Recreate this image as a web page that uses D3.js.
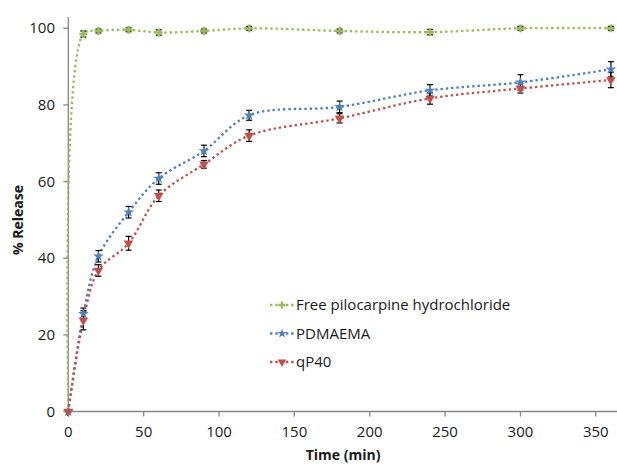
<!DOCTYPE html>
<html>
<head>
<meta charset="utf-8">
<script src="https://cdn.jsdelivr.net/npm/d3@7"></script>
<style>
  body { margin: 0; background: #fff; }
  svg text { font-family: "Open Sans", "Liberation Sans", sans-serif; fill: #1a1a1a; }
  .axisLabel { font-weight: bold; font-size: 14px; }
</style>
</head>
<body>
<div id="chart"></div>
<script>
// Chart data
const times = [0, 10, 20, 40, 60, 90, 120, 180, 240, 300, 360];
const seriesNames = ["Free pilocarpine hydrochloride", "PDMAEMA", "qP40"];
const freeValues = [0, 98.5, 99.3, 99.6, 98.9, 99.3, 100, 99.3, 99.0, 100, 100];
const freeErrors = [0, 0.8, 0.5, 0.5, 0.7, 0.5, 0.5, 0.5, 0.7, 0.5, 0.5];
const pdmaemaValues = [0, 25.5, 40.5, 52, 60.8, 68, 77.3, 79.5, 83.8, 85.9, 89.3];
const pdmaemaErrors = [0, 1.5, 1.5, 1.5, 1.5, 1.5, 1.3, 1.5, 1.5, 2, 2];
const qp40Values = [0, 23.8, 36.8, 43.9, 56.3, 64.5, 72, 76.5, 81.7, 84.3, 86.5];
const qp40Errors = [0, 2.5, 1.5, 1.8, 1.5, 1.0, 1.5, 1.2, 1.5, 1.2, 2];
const xTicks = [0, 50, 100, 150, 200, 250, 300, 350];
const yTicks = [0, 20, 40, 60, 80, 100];

// Dimensions
let w = 617, h = 465;
let svg = d3.select("#chart").append("svg").attr("width", w).attr("height", h);

let xScale = d3.scaleLinear().domain([0, 350]).range([68.3, 595.8]);
let yScale = d3.scaleLinear().domain([0, 100]).range([411.5, 28.3]);

let axisColour = "#868686";

// Axis lines
svg.append("line").attr("x1", xScale(0)).attr("x2", w).attr("y1", yScale(0)).attr("y2", yScale(0))
  .attr("stroke", axisColour).attr("stroke-width", 1.3);
svg.append("line").attr("x1", xScale(0)).attr("x2", xScale(0)).attr("y1", 17).attr("y2", yScale(0))
  .attr("stroke", axisColour).attr("stroke-width", 1.3);

// Ticks and tick labels
xTicks.forEach(t => {
  svg.append("line").attr("x1", xScale(t)).attr("x2", xScale(t)).attr("y1", yScale(0)).attr("y2", yScale(0) + 5)
    .attr("stroke", axisColour).attr("stroke-width", 1.3);
  svg.append("text").text(t).attr("x", xScale(t)).attr("y", 437).attr("text-anchor", "middle").style("font-size", "15px");
});
yTicks.forEach(t => {
  svg.append("line").attr("x1", xScale(0) - 5).attr("x2", xScale(0)).attr("y1", yScale(t)).attr("y2", yScale(t))
    .attr("stroke", axisColour).attr("stroke-width", 1.3);
  svg.append("text").text(t).attr("x", 55).attr("y", yScale(t) + 5).attr("text-anchor", "end").style("font-size", "15px");
});

// Axis titles
svg.append("text").text("Time (min)").attr("x", 343).attr("y", 460).attr("text-anchor", "middle").classed("axisLabel", true);
svg.append("text").text("% Release").attr("transform", "translate(23,220) rotate(-90)").attr("text-anchor", "middle").classed("axisLabel", true);

// Series
let series = [
  { name: seriesNames[0], values: freeValues, errors: freeErrors, colour: "#9BBB59", symbol: d3.symbolCross, size: 34, rotate: 0 },
  { name: seriesNames[1], values: pdmaemaValues, errors: pdmaemaErrors, colour: "#4F81BD", symbol: d3.symbolStar, size: 36, rotate: 0 },
  { name: seriesNames[2], values: qp40Values, errors: qp40Errors, colour: "#C0504D", symbol: d3.symbolTriangle, size: 40, rotate: 180 }
];

let line = d3.line().x(d => xScale(d[0])).y(d => yScale(d[1])).curve(d3.curveCatmullRom.alpha(0.5));

series.forEach(s => {
  let pts = times.map((t, i) => [t, s.values[i], s.errors[i]]);
  svg.append("path").attr("d", line(pts)).attr("fill", "none").attr("stroke", s.colour)
    .attr("stroke-width", 2.3).attr("stroke-dasharray", "2.4,2.9");
});

// Error bars
series.forEach(s => {
  times.forEach((t, i) => {
    if (s.errors[i] === 0) return;
    let x = xScale(t), y1 = yScale(s.values[i] - s.errors[i]), y2 = yScale(s.values[i] + s.errors[i]);
    let g = svg.append("g").attr("stroke", "#000").attr("stroke-width", 1.2);
    g.append("line").attr("x1", x).attr("x2", x).attr("y1", y1).attr("y2", y2);
    g.append("line").attr("x1", x - 3).attr("x2", x + 3).attr("y1", y1).attr("y2", y1);
    g.append("line").attr("x1", x - 3).attr("x2", x + 3).attr("y1", y2).attr("y2", y2);
  });
});

// Markers
series.forEach(s => {
  let sym = d3.symbol().type(s.symbol).size(s.size);
  svg.selectAll(null).data(times.map((t, i) => [t, s.values[i]])).enter()
    .append("path").attr("d", sym)
    .attr("transform", d => "translate(" + xScale(d[0]) + "," + yScale(d[1]) + ") rotate(" + s.rotate + ")")
    .attr("fill", s.colour);
});

// Legend
series.forEach((s, i) => {
  let y = 305 + i * 28.5;
  svg.append("line").attr("x1", 270).attr("x2", 294).attr("y1", y).attr("y2", y)
    .attr("stroke", s.colour).attr("stroke-width", 2.3).attr("stroke-dasharray", "2.4,2.9");
  svg.append("path").attr("d", d3.symbol().type(s.symbol).size(s.size * 0.8))
    .attr("transform", "translate(282," + y + ") rotate(" + s.rotate + ")").attr("fill", s.colour);
  svg.append("text").text(s.name).attr("x", 296).attr("y", y + 5).style("font-size", "15px");
});
</script>
</body>
</html>
